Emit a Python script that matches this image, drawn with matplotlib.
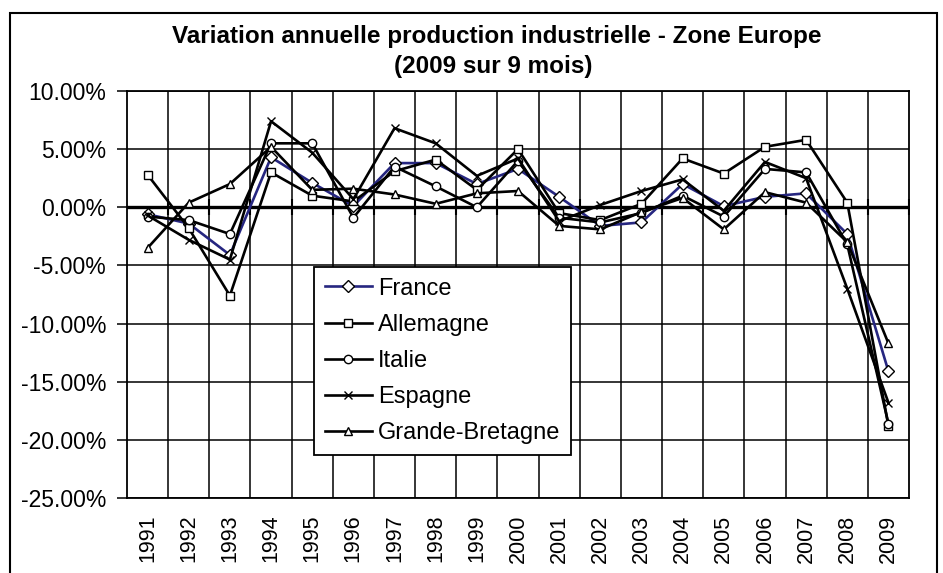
import matplotlib
matplotlib.use("Agg")
import matplotlib.pyplot as plt
from matplotlib.patches import Rectangle
from matplotlib.ticker import FuncFormatter, MultipleLocator
import numpy as np

# Variation annuelle de la production industrielle (en %)
years = [str(y) for y in range(1991, 2010)]
france = [-0.6, -1.4, -4.1, 4.3, 2.1, 0.1, 3.8, 3.8, 2.0, 3.3, 0.9, -1.6, -1.3, 2.0, 0.1, 0.9, 1.2, -2.3, -14.1]
allemagne = [2.8, -1.8, -7.6, 3.0, 1.0, 0.5, 3.1, 4.1, 1.5, 5.0, -0.5, -1.1, 0.3, 4.2, 2.9, 5.2, 5.8, 0.4, -18.8]
italie = [-0.8, -1.1, -2.3, 5.5, 5.5, -0.9, 3.5, 1.8, 0.0, 4.0, -0.9, -1.3, -0.5, 1.0, -0.8, 3.3, 3.0, -3.2, -18.6]
espagne = [-0.7, -2.8, -4.5, 7.4, 4.7, 0.7, 6.8, 5.5, 2.7, 4.2, -1.2, 0.2, 1.4, 2.4, -0.3, 3.9, 2.5, -7.0, -16.8]
grande_bretagne = [-3.5, 0.4, 2.0, 5.2, 1.5, 1.6, 1.1, 0.3, 1.2, 1.4, -1.6, -1.9, -0.4, 0.8, -1.9, 1.3, 0.4, -3.0, -11.7]

plt.rcParams['font.family'] = ['Liberation Sans', 'DejaVu Sans']

fig = plt.figure(figsize=(9.43, 5.73), dpi=100)
ax = fig.add_axes([127 / 943, 1 - 498 / 573, 782 / 943, 407 / 573])

# cadre du graphique
fig.patches.append(Rectangle((10 / 943, -0.02), 927 / 943, 1.02 - 13 / 573,
                             transform=fig.transFigure, fill=False,
                             edgecolor='black', linewidth=1.5))

x = np.arange(len(years))
series = [
    (france, "France", 'D', '#262680'),
    (allemagne, "Allemagne", 's', 'black'),
    (italie, "Italie", 'o', 'black'),
    (espagne, "Espagne", 'x', 'black'),
    (grande_bretagne, "Grande-Bretagne", '^', 'black'),
]
for values, label, marker, color in series:
    ax.plot(x, values, color=color, linewidth=1.9, marker=marker,
            markersize=6, markerfacecolor='white', markeredgecolor='black',
            markeredgewidth=1.0, label=label, zorder=3)

ax.set_xlim(-0.5, len(years) - 0.5)
ax.set_ylim(-25, 10)
ax.yaxis.set_major_locator(MultipleLocator(5))
ax.yaxis.set_major_formatter(FuncFormatter(lambda v, p: f"{v:.2f}%"))
ax.grid(axis='y', color='black', linewidth=1.1)

# lignes verticales entre les catégories
bounds = np.arange(len(years) - 1) + 0.5
for b in bounds:
    ax.axvline(b, color='black', linewidth=1.1, zorder=1)

# axe des catégories à 0 %
ax.axhline(0, color='black', linewidth=2.4, zorder=2)
ax.plot(np.append(bounds, len(years) - 0.5), np.zeros(len(bounds) + 1), linestyle='none',
        marker='|', markersize=11, markeredgewidth=1.5, color='black', zorder=2)

ax.set_xticks(x)
ax.set_xticklabels(years, rotation=90, fontsize=15.5)
ax.tick_params(axis='x', length=0, pad=12)
ax.tick_params(axis='y', length=7, width=1.1, labelsize=16.5, pad=8)
for side in ['left', 'right', 'top', 'bottom']:
    ax.spines[side].set_linewidth(1.3)

fig.text(497 / 943, 1 - 37 / 573, "Variation annuelle production industrielle - Zone Europe",
         ha='center', va='center', fontsize=17.5, fontweight='bold')
fig.text(493 / 943, 1 - 67 / 573, "(2009 sur 9 mois)",
         ha='center', va='center', fontsize=17.5, fontweight='bold')

leg = ax.legend(loc='upper left', bbox_to_anchor=(314 / 943, 1 - 267 / 573),
                bbox_transform=fig.transFigure, borderaxespad=0, fontsize=17,
                fancybox=False, edgecolor='black', framealpha=1,
                handlelength=2.0, labelspacing=0.6, handletextpad=0.25,
                borderpad=0.45)
leg.get_frame().set_linewidth(1.3)

fig.savefig("out.png", dpi=100)
